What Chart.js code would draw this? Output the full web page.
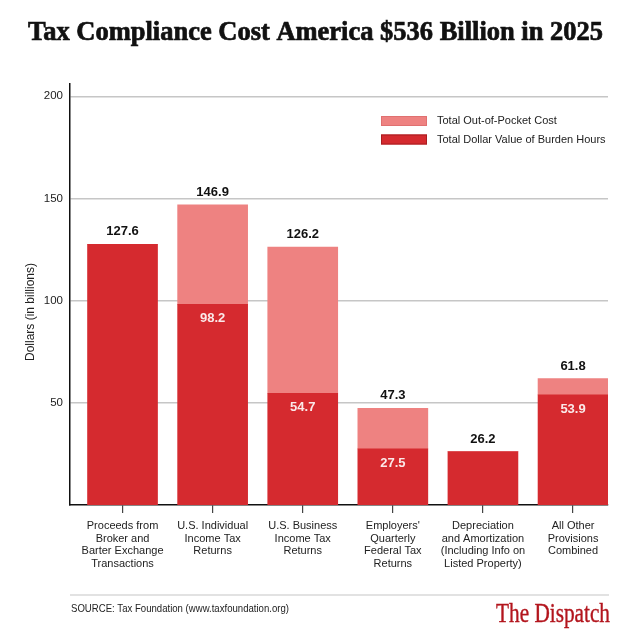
<!DOCTYPE html>
<html>
<head>
<meta charset="utf-8">
<script src="https://cdn.jsdelivr.net/npm/chart.js@4"></script>
<style>
    html, body { margin: 0; padding: 0; background: #fff; }
    #wrap { width: 640px; height: 640px; }
</style>
</head>
<body>
<div id="wrap"><canvas id="taxChart" width="640" height="640"></canvas></div>
<script>
const categories = [
    ["Proceeds from", "Broker and", "Barter Exchange", "Transactions"],
    ["U.S. Individual", "Income Tax", "Returns"],
    ["U.S. Business", "Income Tax", "Returns"],
    ["Employers'", "Quarterly", "Federal Tax", "Returns"],
    ["Depreciation", "and Amortization", "(Including Info on", "Listed Property)"],
    ["All Other", "Provisions", "Combined"]
];
const burdenHours = [127.6, 98.2, 54.7, 27.5, 26.2, 53.9];
const outOfPocket = [0, 48.7, 71.5, 19.8, 0, 7.9];
const yTicks = [50, 100, 150, 200];

const DARK = "#d52a2f";
const LIGHT = "#ee8281";
const SANS = "'Liberation Sans', Arial, sans-serif";
const SERIF = "'Liberation Serif', 'DejaVu Serif', serif";

// draws text squeezed/stretched to a given width (the reference uses condensed faces)
function fitText(ctx, text, x, y, width, align, heavy) {
    const w = ctx.measureText(text).width;
    const sx = width / w;
    ctx.save();
    ctx.translate(x, y);
    ctx.scale(sx, 1);
    ctx.textAlign = align || "left";
    ctx.fillText(text, 0, 0);
    if (heavy) {
        ctx.strokeStyle = ctx.fillStyle;
        ctx.lineWidth = heavy;
        ctx.strokeText(text, 0, 0);
    }
    ctx.restore();
}

const decorations = {
    id: "decorations",
    afterDatasetsDraw(chart) {
        const { ctx, chartArea } = chart;
        const low = chart.getDatasetMeta(0).data;
        const high = chart.getDatasetMeta(1).data;

        ctx.save();
        ctx.textBaseline = "middle";
        ctx.textAlign = "center";
        ctx.font = "bold 13px " + SANS;
        burdenHours.forEach((b, i) => {
            const total = b + outOfPocket[i];
            ctx.fillStyle = "#111";
            ctx.fillText(total.toFixed(1), high[i].x, high[i].y - 12.5);
            if (outOfPocket[i] > 0) {
                ctx.fillStyle = "#fbe9e9";
                ctx.fillText(b.toFixed(1), low[i].x, low[i].y + 14.5);
            }
        });

        // legend, inside the plot
        const items = [
            { label: chart.data.datasets[1].label, color: LIGHT, border: "#e07070", y: 121 },
            { label: chart.data.datasets[0].label, color: DARK, border: "#a81c20", y: 139.5 }
        ];
        ctx.font = "11px " + SANS;
        ctx.textAlign = "left";
        items.forEach(it => {
            ctx.fillStyle = it.color;
            ctx.fillRect(381, it.y - 5, 46, 10);
            ctx.strokeStyle = it.border;
            ctx.lineWidth = 1;
            ctx.strokeRect(381.5, it.y - 4.5, 45, 9);
            ctx.fillStyle = "#222";
            ctx.fillText(it.label, 437, it.y);
        });

        // y axis title
        ctx.save();
        ctx.translate(31, 312);
        ctx.rotate(-Math.PI / 2);
        ctx.textAlign = "center";
        ctx.font = "12px " + SANS;
        ctx.fillStyle = "#222";
        ctx.fillText("Dollars (in billions)", 0, 0);
        ctx.restore();

        // title
        ctx.textBaseline = "alphabetic";
        ctx.fillStyle = "#111";
        ctx.font = "bold 27px " + SERIF;
        fitText(ctx, "Tax Compliance Cost America $536 Billion in 2025", 28, 40, 575, "left", 0.7);

        // footer
        ctx.strokeStyle = "#e2e2e2";
        ctx.lineWidth = 2;
        ctx.beginPath();
        ctx.moveTo(chartArea.left, 595);
        ctx.lineTo(609, 595);
        ctx.stroke();

        ctx.textBaseline = "middle";
        ctx.fillStyle = "#222";
        ctx.font = "10.5px " + SANS;
        fitText(ctx, "SOURCE: Tax Foundation (www.taxfoundation.org)", 71, 609, 218);

        ctx.textBaseline = "alphabetic";
        ctx.fillStyle = "#b3151d";
        ctx.font = "28px " + SERIF;
        fitText(ctx, "The Dispatch", 610, 622, 114, "right", 0.4);
        ctx.restore();
    }
};

new Chart(document.getElementById("taxChart"), {
    type: "bar",
    data: {
        datasets: [
            {
                label: "Total Dollar Value of Burden Hours",
                data: burdenHours.map((v, i) => ({ x: i, y: v })),
                backgroundColor: DARK,
                borderWidth: 0
            },
            {
                label: "Total Out-of-Pocket Cost",
                data: outOfPocket.map((v, i) => ({ x: i, y: v })),
                backgroundColor: LIGHT,
                borderWidth: 0
            }
        ]
    },
    options: {
        responsive: false,
        animation: false,
        barThickness: 70,
        layout: { padding: { top: 84, right: 32, bottom: 0, left: 0 } },
        plugins: {
            legend: { display: false },
            tooltip: { enabled: false }
        },
        scales: {
            x: {
                type: "linear",
                stacked: true,
                offset: false,
                min: -0.583,
                max: 5.388,
                afterBuildTicks: scale => {
                    scale.ticks = categories.map((_, i) => ({ value: i }));
                },
                afterFit: scale => { scale.height = 135; },
                grid: {
                    offset: false,
                    drawOnChartArea: false,
                    drawTicks: true,
                    tickLength: 8,
                    color: "#444",
                    lineWidth: 1.2
                },
                border: { display: true, color: "#111", width: 1.5 },
                ticks: {
                    autoSkip: false,
                    maxRotation: 0,
                    padding: 7,
                    color: "#222",
                    font: { family: SANS, size: 11, lineHeight: 1.14 },
                    callback: value => categories[value]
                }
            },
            y: {
                stacked: true,
                min: 0,
                max: 206,
                afterBuildTicks: scale => {
                    scale.ticks = yTicks.map(v => ({ value: v }));
                },
                afterFit: scale => { scale.width = 70; },
                grid: {
                    drawTicks: false,
                    color: "#c6c6c6",
                    lineWidth: 1.5
                },
                border: { display: true, color: "#111", width: 1.5 },
                ticks: {
                    padding: 7,
                    color: "#222",
                    font: { family: SANS, size: 11.5 }
                }
            }
        }
    },
    plugins: [decorations]
});
</script>
</body>
</html>
